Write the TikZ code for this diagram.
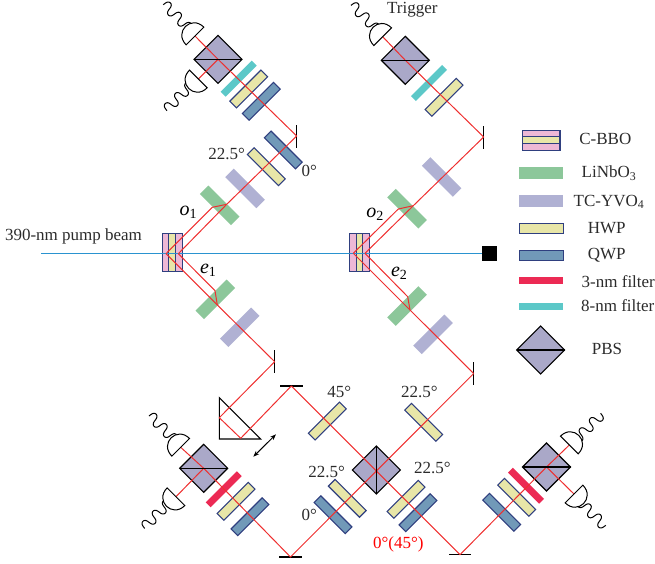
\documentclass[tikz,border=0pt]{standalone}
\usepackage{xcolor}
\usepackage{fontspec}
\setmainfont{Liberation Serif}
\usetikzlibrary{shapes.geometric, arrows.meta, positioning}
\definecolor{platenavy}{HTML}{2F3F7F}
\definecolor{pbsfill}{HTML}{AAA8C8}
\definecolor{hwpfill}{HTML}{E8E6A8}
\definecolor{qwpfill}{HTML}{7199B8}
\definecolor{lnbfill}{HTML}{8CC79A}
\definecolor{tcyfill}{HTML}{B0B1D3}
\definecolor{bbopink}{HTML}{EDB8D6}
\definecolor{narrowfill}{HTML}{EC2A54}
\definecolor{broadfill}{HTML}{5CC8C8}
\definecolor{beamred}{HTML}{EE2F2F}
\definecolor{pumpblue}{HTML}{2A93D0}
\definecolor{inktext}{HTML}{2B2B2B}
\tikzset{
  % Optical element styles
  plate/.style={rectangle, minimum width=44pt, minimum height=#1, inner sep=0pt, outer sep=0pt},
  hwp/.style={plate=9.5pt, draw=platenavy, line width=1.1pt, fill=hwpfill, rotate=#1},
  qwp/.style={plate=9.5pt, draw=platenavy, line width=1.1pt, fill=qwpfill, rotate=#1},
  lnb/.style={plate=12pt, fill=lnbfill, rotate=#1},
  tcy/.style={plate=12pt, fill=tcyfill, rotate=#1},
  narrowf/.style={plate=7pt, fill=narrowfill, rotate=#1},
  broadf/.style={plate=7pt, fill=broadfill, rotate=#1},
  hwp/.default=45, qwp/.default=45, lnb/.default=45, tcy/.default=45, narrowf/.default=45, broadf/.default=45,
  bbo/.style={rectangle, minimum width=6.7pt, minimum height=37.7pt, inner sep=0pt, outer sep=0pt, draw=platenavy, line width=1.1pt, fill=#1},
  bbokey/.style={rectangle, minimum width=37.7pt, minimum height=6.7pt, inner sep=0pt, outer sep=0pt, draw=platenavy, line width=1.1pt, fill=#1},
  pbs/.style={diamond, aspect=1, minimum width=48pt, minimum height=48pt, inner sep=0pt, outer sep=0pt, draw=black, line width=1.1pt, fill=pbsfill},
  vmirror/.style={rectangle, minimum width=1.2pt, minimum height=23pt, inner sep=0pt, outer sep=0pt, fill=black},
  hmirror/.style={rectangle, minimum width=22.5pt, minimum height=1.1pt, inner sep=0pt, outer sep=0pt, fill=black},
  % Lines
  beam/.style={draw=beamred, line width=1pt, line join=round},
  pumpline/.style={draw=pumpblue, line width=1.6pt},
  split/.style={draw=black, line width=1.1pt},
  % Labels
  lab/.style={inner sep=0pt, text=inktext, font=\fontsize{17}{19}\selectfont},
  arm/.style={inner sep=0pt, text=black, font=\fontsize{20}{22}\selectfont},
  % Detector with its signal line, the flat face at the origin
  detector/.pic={
    \draw[black, line width=1pt, fill=white] (0,12.5) .. controls (18,12.5) and (18,-12.5) .. (0,-12.5) -- cycle;
    \draw[black, line width=1pt] plot[domain=0:33, samples=60, smooth] ({12+\x+0.8*sin(\x*50)}, {1+5*cos(\x*25)});
  },
}
\begin{document}
\begin{tikzpicture}[x=1pt, y=-1pt]
    \useasboundingbox (0,0) rectangle (655,563);

    % Source crystals
    \node[bbo=bbopink] (caa) at (165.5,252.3) {};
    \node[bbo=hwpfill, right=0pt of caa] (cab) {};
    \node[bbo=bbopink, right=0pt of cab] (cac) {};
    \node[bbo=bbopink] (cba) at (352.7,252.7) {};
    \node[bbo=hwpfill, right=0pt of cba] (cbb) {};
    \node[bbo=bbopink, right=0pt of cbb] (cbc) {};

    % Compensation crystals
    \node[lnb=-45] (lnoa) at (219.7,205.3) {};
    \node[tcy=-45] (tcoa) at (245,188.4) {};
    \node[lnb=45] (lnea) at (215.3,299.3) {};
    \node[tcy=45] (tcea) at (239.7,327.3) {};
    \node[lnb=-45] (lnob) at (407,208.7) {};
    \node[tcy=-45] (tcob) at (441.6,177) {};
    \node[lnb=45] (lneb) at (407,306) {};
    \node[tcy=45] (tceb) at (433,334.3) {};

    % Upper left arm
    \node[qwp=-45] (qwoa) at (283.3,150) {};
    \node[hwp=-45] (hwoa) at (266.3,166.7) {};
    \node[qwp] (qwta) at (261.3,101.3) {};
    \node[hwp] (hwta) at (248.7,89) {};
    \node[broadf] (flta) at (238.7,78.7) {};
    \node[pbs] (pbsa) at (218,59.3) {};

    % Upper right arm
    \node[hwp] (hwtb) at (444,97.3) {};
    \node[broadf] (fltb) at (429,83) {};
    \node[pbs] (pbsb) at (405.3,60.3) {};

    % Interference part
    \node[hwp] (hwin) at (327.3,421) {};
    \node[hwp=-45] (hwir) at (423.7,422.3) {};
    \node[pbs] (pbsc) at (376.3,470) {};
    \node[hwp=-45] (hwll) at (347.3,498.3) {};
    \node[qwp=-45] (qwll) at (333,514.7) {};
    \node[hwp] (hwlr) at (406,499.3) {};
    \node[qwp] (qwlr) at (418,512.7) {};

    % Lower left analyser
    \node[qwp] (qwda) at (250,516.7) {};
    \node[hwp] (hwda) at (236,501.3) {};
    \node[narrowf] (fda) at (223.7,489.3) {};
    \node[pbs] (pbsd) at (203.7,468.3) {};

    % Lower right analyser
    \node[qwp=-45] (qwdb) at (501.7,512.3) {};
    \node[hwp=-45] (hwdb) at (516.7,497.3) {};
    \node[narrowf=-45] (fdb) at (526,485.7) {};
    \node[pbs] (pbse) at (546.5,467) {};

    % Mirrors
    \node[vmirror] (moa) at (296.7,136) {};
    \node[vmirror] (mob) at (483.7,137) {};
    \node[vmirror] (mea) at (274.7,361.7) {};
    \node[vmirror] (meb) at (473.7,373.5) {};
    \node[hmirror] (mpr) at (291.3,386) {};
    \node[hmirror] (mbl) at (290.5,557) {};
    \node[hmirror] (mbr) at (460,554.7) {};

    % Prism
    \coordinate (pra) at (219.3,397.7);
    \coordinate (prb) at (219.3,439);
    \coordinate (prc) at (260.7,439);
    \coordinate (pri) at (219.3,417.7);
    \coordinate (prj) at (240.7,438.3);
    \draw[black, line width=1.1pt] (pra) -- (prb) -- (prc) -- cycle;
    \coordinate (sla) at (253.3,456.7);
    \coordinate (slb) at (276,434.3);
    \draw[{Stealth[length=6pt, width=4.5pt]}-{Stealth[length=6pt, width=4.5pt]}, black, line width=1pt] (sla) -- (slb);

    % Pump
    \node[rectangle, minimum size=15pt, inner sep=0pt, fill=black] (dump) at (489.8,253.5) {};
    \coordinate (pumpin) at (41,253.5);
    \draw[pumpline] (pumpin) -- (dump);

    % Down-conversion points and walk-off points
    \coordinate (sa) at (166,253.7);
    \coordinate (sb) at (178.3,253.7);
    \coordinate (sc) at (353.3,253.3);
    \coordinate (sd) at (365,253.3);
    \coordinate (waa) at (212.3,207.3);
    \coordinate (wab) at (226.7,204.3);
    \coordinate (wba) at (215,290.7);
    \coordinate (wbb) at (217.3,305);
    \coordinate (wca) at (398.3,209);
    \coordinate (wcb) at (413.3,205.7);
    \coordinate (wda) at (407.7,296.7);
    \coordinate (wdb) at (410,310);

    % Beams from the first crystal
    \draw[beam] (sa) -- (waa) -- (wab);
    \draw[beam] (sb) -- (wab) -- (moa.center) -- (pbsa.center);
    \draw[beam] (sa) -- (wbb);
    \draw[beam] (sb) -- (wba) -- (wbb) -- (mea.center);
    \draw[beam] (mea.center) -- (pri) -- (prj) -- (mpr.center) -- (mbr.center) -- (pbse.center);

    % Beams from the second crystal
    \draw[beam] (sc) -- (wca) -- (wcb);
    \draw[beam] (sd) -- (wcb) -- (mob.center) -- (pbsb.center);
    \draw[beam] (sc) -- (wdb);
    \draw[beam] (sd) -- (wda) -- (wdb) -- (meb.center);
    \draw[beam] (meb.center) -- (mbl.center) -- (pbsd.center);

    % Detectors
    \coordinate (dta) at (195,36);
    \coordinate (dtb) at (198.3,79);
    \coordinate (dtc) at (382.7,36.7);
    \coordinate (dtd) at (180.7,447.3);
    \coordinate (dte) at (176,496.7);
    \coordinate (dtf) at (569.3,445);
    \coordinate (dtg) at (574,494);
    \draw[beam] (pbsa.center) -- (dta);
    \draw[beam] (pbsa.center) -- (dtb);
    \draw[beam] (pbsb.center) -- (dtc);
    \draw[beam] (pbsd.center) -- (dtd);
    \draw[beam] (pbsd.center) -- (dte);
    \draw[beam] (pbse.center) -- (dtf);
    \draw[beam] (pbse.center) -- (dtg);
    \pic[rotate=135] at (dta) {detector};
    \pic[rotate=225] at (dtb) {detector};
    \pic[rotate=135] at (dtc) {detector};
    \pic[rotate=135] at (dtd) {detector};
    \pic[rotate=225] at (dte) {detector};
    \pic[rotate=45] at (dtf) {detector};
    \pic[rotate=-45] at (dtg) {detector};

    % Splitting faces
    \draw[split] (pbsa.west) -- (pbsa.east);
    \draw[split] (pbsb.west) -- (pbsb.east);
    \draw[split] (pbsc.north) -- (pbsc.south);
    \draw[split] (pbsd.west) -- (pbsd.east);
    \draw[split] (pbse.west) -- (pbse.east);

    % Labels
    \node[lab] (lpump) at (73.5,236.7) {390-nm pump beam};
    \node[lab] (ltrig) at (412.3,10) {Trigger};
    \node[arm] (loa) at (188.3,212.3) {\textit{o}\textsubscript{1}};
    \node[arm] (lea) at (208.3,270.7) {\textit{e}\textsubscript{1}};
    \node[arm] (lob) at (375,214) {\textit{o}\textsubscript{2}};
    \node[arm] (leb) at (399.3,273.3) {\textit{e}\textsubscript{2}};
    \node[lab] (lha) at (226.7,154.3) {22.5°};
    \node[lab] (lqa) at (309.3,171) {0°};
    \node[lab] (lhb) at (339.3,391.7) {45°};
    \node[lab] (lhc) at (419.3,391.7) {22.5°};
    \node[lab] (lhd) at (326.7,472.3) {22.5°};
    \node[lab] (lhe) at (432.3,467.7) {22.5°};
    \node[lab] (lqb) at (309.3,515) {0°};
    \node[lab, text=red] (lqc) at (398.3,544) {0°(45°)};

    % Key
    \node[bbokey=bbopink] (kca) at (541.1,133.5) {};
    \node[bbokey=hwpfill, below=0pt of kca] (kcb) {};
    \node[bbokey=bbopink, below=0pt of kcb] (kcc) {};
    \node[lnb=0] (klnb) at (541.3,172.8) {};
    \node[tcy=0] (ktcy) at (541.3,201.3) {};
    \node[hwp=0] (khwp) at (541.3,228.5) {};
    \node[qwp=0] (kqwp) at (541.3,255.5) {};
    \node[narrowf=0] (knar) at (540.5,280.2) {};
    \node[broadf=0] (kbro) at (540.5,306.8) {};
    \node[pbs] (kpbs) at (540.7,350) {};
    \draw[split] (kpbs.west) -- (kpbs.east);
    \node[lab] (tbbo) at (605.3,139.3) {C-BBO};
    \node[lab] (tlnb) at (609,173) {LiNbO\textsubscript{3}};
    \node[lab] (ttcy) at (609,201.7) {TC-YVO\textsubscript{4}};
    \node[lab] (thwp) at (606.7,228.3) {HWP};
    \node[lab] (tqwp) at (606.7,255.7) {QWP};
    \node[lab] (tnar) at (618.3,282) {3-nm filter};
    \node[lab] (tbro) at (617.7,305.3) {8-nm filter};
    \node[lab] (tpbs) at (607,349.3) {PBS};
\end{tikzpicture}
\end{document}
